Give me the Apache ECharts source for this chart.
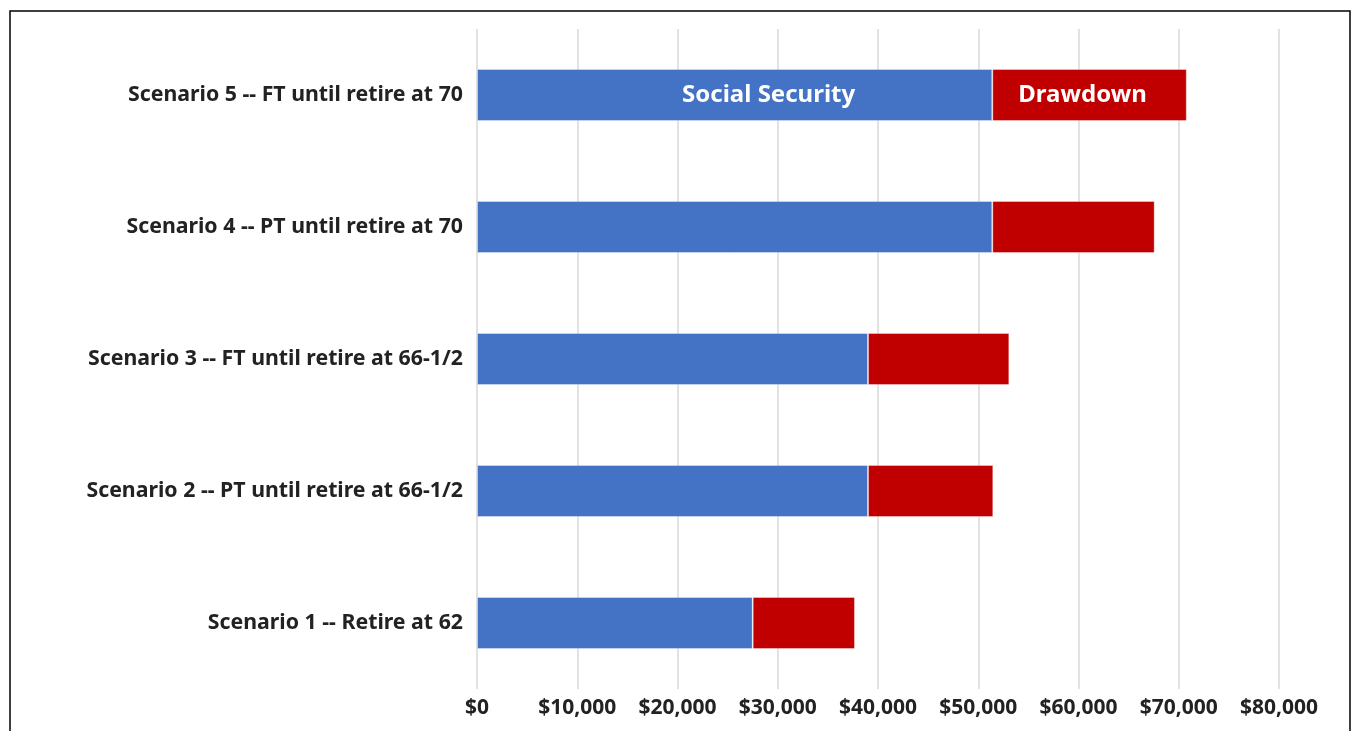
<!DOCTYPE html>
<html><head><meta charset="utf-8">
<script src="https://cdn.jsdelivr.net/npm/echarts@6/dist/echarts.min.js"></script>
<style>html,body{margin:0;padding:0;background:#fff}#c{width:1353px;height:731px}</style>
</head><body><div id="c"></div>
<script>
const categories = ["Scenario 1 -- Retire at 62","Scenario 2 -- PT until retire at 66-1/2","Scenario 3 -- FT until retire at 66-1/2","Scenario 4 -- PT until retire at 70","Scenario 5 -- FT until retire at 70"];
const socialSecurity = [27500, 39000, 39000, 51400, 51400];
const drawdown = [10200, 12500, 14100, 16200, 19400];
const tickValues = [0,10000,20000,30000,40000,50000,60000,70000,80000];
const FONT = 'Noto Sans';
const W = 'bold';
const chart = echarts.init(document.getElementById('c'));
const lbl = (i, text, off) => ({show: true, position: 'inside', offset: off, color: '#fff', fontFamily: FONT, fontWeight: W, fontSize: 24, formatter: () => text});
chart.setOption({
  animation: false,
  graphic: [{type:'rect', shape:{x:10, y:11, width:1340, height:740}, style:{fill:'none', stroke:'#000', lineWidth:1.5}, z:100}],
  grid: {left: 477, right: 74, top: 29, bottom: 42},
  xAxis: {type:'value', min:0, max:80000, interval:10000,
    axisLine:{show:false}, axisTick:{show:false},
    splitLine:{show:true, lineStyle:{color:'#d9d9d9', width:1.5}},
    axisLabel:{margin:9, color:'#222', fontFamily:FONT, fontWeight:W, fontSize:21,
      formatter: v => '$' + v.toLocaleString('en-US')}},
  yAxis: {type:'category', data: categories,
    axisLine:{show:false}, axisTick:{show:false},
    axisLabel:{margin:14, color:'#222', fontFamily:FONT, fontWeight:W, fontSize:21.3}},
  series: [
    {name:'Social Security', type:'bar', stack:'a', barWidth:52, itemStyle:{color:'#4472C4', borderColor:'rgba(255,255,255,0.35)', borderWidth:1},
      data: socialSecurity.map((v,i)=> i===4 ? {value:v, label: lbl(i,'Social Security',[34,0])} : v)},
    {name:'Drawdown', type:'bar', stack:'a', barWidth:52, itemStyle:{color:'#C00000', borderColor:'rgba(255,255,255,0.35)', borderWidth:1},
      data: drawdown.map((v,i)=> i===4 ? {value:v, label: lbl(i,'Drawdown',[-7,0])} : v)}
  ]
});
</script></body></html>
